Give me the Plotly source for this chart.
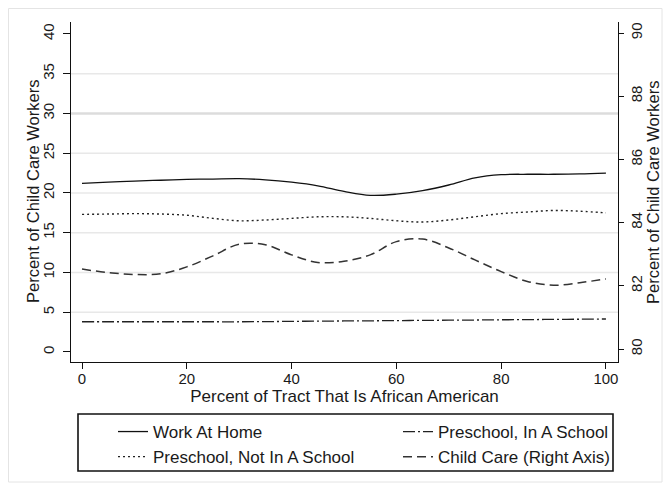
import plotly.graph_objects as go

x_vals = [0, 5, 10, 15, 20, 25, 30, 35, 40, 45, 50, 55, 60, 65, 70, 75, 80, 85, 90, 95, 100]
work_at_home = [21.2, 21.35, 21.5, 21.6, 21.7, 21.75, 21.8, 21.65, 21.35, 20.9, 20.2, 19.7, 19.85, 20.3, 21.0, 21.9, 22.3, 22.35, 22.35, 22.4, 22.5]
preschool_not_school = [17.3, 17.35, 17.4, 17.35, 17.2, 16.8, 16.5, 16.6, 16.8, 17.0, 17.0, 16.8, 16.5, 16.35, 16.6, 17.0, 17.4, 17.6, 17.8, 17.7, 17.5]
preschool_in_school = [3.8, 3.8, 3.8, 3.8, 3.8, 3.8, 3.8, 3.82, 3.85, 3.88, 3.9, 3.92, 3.95, 3.97, 4.0, 4.02, 4.05, 4.07, 4.1, 4.12, 4.15]
child_care = [82.53, 82.42, 82.36, 82.38, 82.6, 82.95, 83.32, 83.3, 82.98, 82.74, 82.78, 82.98, 83.4, 83.48, 83.2, 82.82, 82.45, 82.14, 82.02, 82.1, 82.22]

left_ticks = [0, 5, 10, 15, 20, 25, 30, 35, 40]
grid_vals = [5, 10, 15, 20, 25, 30, 35]
right_ticks = [80, 82, 84, 86, 88, 90]
x_ticks = [0, 20, 40, 60, 80, 100]

y_title = "Percent of Child Care Workers"
x_title = "Percent of Tract That Is African American"

FONT = "Liberation Sans, Arial, sans-serif"
TXT = "#1a1a1a"

# page body has an 8px margin; figure sized to fit the window
OFF = 8
W, H = 655, 475
l, r, t, b = 63, 45, 14, 121
pw, ph = W - l - r, H - t - b


def px_x(p):
    return (p - OFF - l) / pw


def px_y(p):
    return (H - b - (p - OFF)) / ph


fig = go.Figure()
fig.add_trace(go.Scatter(x=x_vals, y=work_at_home, mode="lines", name="Work At Home", legend="legend",
                         line=dict(color="#111", width=1.3, shape="spline")))
fig.add_trace(go.Scatter(x=x_vals, y=preschool_not_school, mode="lines", name="Preschool, Not In A School",
                         legend="legend",
                         line=dict(color="#222", width=1.4, shape="spline", dash="2px,3px")))
fig.add_trace(go.Scatter(x=x_vals, y=preschool_in_school, mode="lines", name="Preschool, In A School",
                         legend="legend2",
                         line=dict(color="#222", width=1.3, shape="spline", dash="12px,3px,2px,3px")))
fig.add_trace(go.Scatter(x=x_vals, y=child_care, mode="lines", name="Child Care (Right Axis)", yaxis="y2",
                         legend="legend2",
                         line=dict(color="#333", width=1.5, shape="spline", dash="9px,5px")))

shapes = []
for g in grid_vals:
    shapes.append(dict(type="line", xref="paper", yref="y", x0=0, x1=1, y0=g, y1=g,
                       line=dict(color="#dcdcdc" if g == 30 else "#e8e8e8", width=2.5 if g == 30 else 1.5),
                       layer="below"))
# faint outer frame
shapes.append(dict(type="rect", xref="paper", yref="paper",
                   x0=px_x(8.5), x1=px_x(662), y0=px_y(482), y1=px_y(8.5),
                   line=dict(color="#e4e4e4", width=1), layer="below"))
# legend box
shapes.append(dict(type="rect", xref="paper", yref="paper",
                   x0=px_x(78), x1=px_x(613), y0=px_y(471), y1=px_y(414),
                   line=dict(color="#111", width=1.6), fillcolor="rgba(0,0,0,0)", layer="above"))

annotations = [
    dict(text=y_title, textangle=-90, xref="paper", yref="paper", x=px_x(33), y=0.5,
         xanchor="center", yanchor="middle", showarrow=False, font=dict(size=16.5, color=TXT)),
    dict(text=y_title, textangle=-90, xref="paper", yref="paper", x=px_x(653), y=0.5,
         xanchor="center", yanchor="middle", showarrow=False, font=dict(size=16.5, color=TXT)),
]

axis_common = dict(showline=True, linecolor="#111", linewidth=1.3, showgrid=False, zeroline=False,
                   tickcolor="#111", ticks="outside")

leg_common = dict(orientation="v", yanchor="top", xanchor="left", borderwidth=0,
                  bgcolor="rgba(0,0,0,0)", font=dict(size=17, color=TXT), tracegroupgap=0)

fig.update_layout(
    width=W, height=H,
    margin=dict(l=l, r=r, t=t, b=b, autoexpand=False),
    paper_bgcolor="white", plot_bgcolor="white",
    font=dict(family=FONT, size=15, color=TXT),
    showlegend=True,
    shapes=shapes,
    annotations=annotations,
    xaxis=dict(range=[-2.1, 102.3], tickvals=x_ticks, ticklen=6, ticklabelstandoff=-3,
               title=dict(text=x_title, standoff=2, font=dict(size=17, color=TXT)),
               tickfont=dict(size=15, color=TXT), **axis_common),
    yaxis=dict(range=[-1.26, 41.5], tickvals=left_ticks, ticklen=7, tickangle=-90, ticklabelstandoff=3,
               tickfont=dict(size=15, color=TXT), **axis_common),
    yaxis2=dict(range=[79.59, 90.35], tickvals=right_ticks, overlaying="y", side="right",
                ticklen=5, tickangle=-90, ticklabelstandoff=0,
                tickfont=dict(size=15, color=TXT), **axis_common),
    legend=dict(x=px_x(113), y=px_y(414), **leg_common),
    legend2=dict(x=px_x(398), y=px_y(414), **leg_common),
)

fig.write_html("out.html")
